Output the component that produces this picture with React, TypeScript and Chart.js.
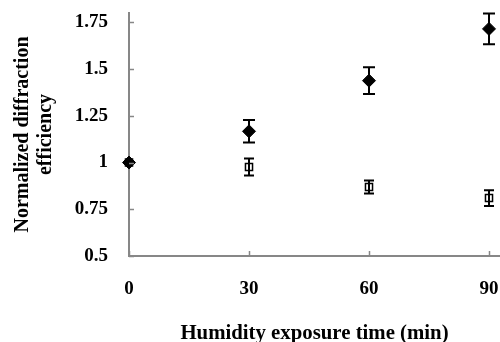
import React, { useEffect, useRef } from 'react';
import { Chart, registerables } from 'chart.js';

Chart.register(...registerables);

const xValues = [0, 30, 60, 90];
const diamondValues = [1.0, 1.167, 1.438, 1.715];
const diamondErrors = [0, 0.06, 0.072, 0.082];
const squareValues = [1.0, 0.976, 0.869, 0.81];
const squareErrors = [0, 0.045, 0.035, 0.042];
const xTicks = [0, 30, 60, 90];
const yTicks = [0.5, 0.75, 1, 1.25, 1.5, 1.75];
const xTitle = 'Humidity exposure time (min)';
const yTitle = ['Normalized diffraction', 'efficiency'];

const FONT = '"Liberation Serif", "Times New Roman", serif';
const AXIS_COLOR = '#878787';

const errorBarPlugin = {
  id: 'errorBars',
  afterDatasetsDraw(chart: any) {
    const ctx = chart.ctx;
    const ys = chart.scales.y;
    chart.data.datasets.forEach((ds: any, di: number) => {
      const meta = chart.getDatasetMeta(di);
      const errs: number[] = ds.errors || [];
      const cap: number = ds.capHalf || 5;
      meta.data.forEach((pt: any, i: number) => {
        const e = errs[i];
        if (!e) return;
        const v = ds.data[i].y;
        const top = ys.getPixelForValue(v + e);
        const bot = ys.getPixelForValue(v - e);
        const x = pt.x;
        ctx.save();
        ctx.strokeStyle = '#000';
        ctx.lineWidth = 2;
        ctx.beginPath();
        ctx.moveTo(x, top);
        ctx.lineTo(x, bot);
        ctx.moveTo(x - cap, top);
        ctx.lineTo(x + cap, top);
        ctx.moveTo(x - cap, bot);
        ctx.lineTo(x + cap, bot);
        ctx.stroke();
        ctx.restore();
      });
    });
  },
  afterDraw(chart: any) {
    const ctx = chart.ctx;
    const xs = chart.scales.x;
    const ys = chart.scales.y;
    const area = chart.chartArea;
    ctx.save();
    ctx.strokeStyle = AXIS_COLOR;
    ctx.lineWidth = 1.5;
    ctx.beginPath();
    yTicks.forEach((v) => {
      const y = Math.round(ys.getPixelForValue(v)) + 0.5;
      ctx.moveTo(area.left, y);
      ctx.lineTo(area.left + 5, y);
    });
    xTicks.forEach((v) => {
      const x = Math.round(xs.getPixelForValue(v)) + 0.5;
      ctx.moveTo(x, area.bottom);
      ctx.lineTo(x, area.bottom - 5);
    });
    ctx.stroke();
    ctx.restore();
  },
};

const zeroPadding = (s: any) => {
  s.paddingTop = 0;
  s.paddingBottom = 0;
  s.paddingLeft = 0;
  s.paddingRight = 0;
};

export default function App() {
  const ref = useRef<HTMLCanvasElement | null>(null);

  useEffect(() => {
    document.body.style.margin = '0';
    const canvas = ref.current;
    if (!canvas) return;
    const chart = new Chart(canvas, {
      type: 'scatter',
      data: {
        datasets: [
          {
            label: 'diamond',
            data: xValues.map((x, i) => ({ x, y: diamondValues[i] })),
            pointStyle: 'rectRot',
            pointRadius: 6.5,
            backgroundColor: '#000',
            borderColor: '#000',
            borderWidth: 1,
            errors: diamondErrors,
            capHalf: 6,
            clip: false,
          } as any,
          {
            label: 'square',
            data: xValues.map((x, i) => ({ x, y: squareValues[i] })),
            pointStyle: 'rect',
            pointRadius: 5,
            backgroundColor: '#fff',
            borderColor: '#000',
            borderWidth: 1.5,
            errors: squareErrors,
            capHalf: 5,
            clip: false,
          } as any,
        ],
      },
      options: {
        animation: false,
        responsive: false,
        devicePixelRatio: 1,
        layout: { autoPadding: false, padding: { top: 13, right: 0, left: 0, bottom: 0 } },
        plugins: { legend: { display: false }, tooltip: { enabled: false } },
        scales: {
          x: {
            type: 'linear',
            min: 0,
            max: 92.75,
            afterBuildTicks: (s: any) => {
              s.ticks = xTicks.map((v) => ({ value: v }));
            },
            afterFit: (s: any) => {
              s.height = 86;
              zeroPadding(s);
            },
            grid: { display: false, drawTicks: false },
            border: { display: true, color: AXIS_COLOR, width: 2 },
            ticks: {
              color: '#000',
              padding: 22,
              font: { family: FONT, size: 19, weight: 'bold' },
              callback: (v: any) => String(v),
              maxRotation: 0,
            },
            title: {
              display: true,
              text: xTitle,
              color: '#000',
              padding: 0,
              font: { family: FONT, size: 20.8, weight: 'bold', lineHeight: 0.85 },
            },
          },
          y: {
            type: 'linear',
            min: 0.5,
            max: 1.8,
            afterBuildTicks: (s: any) => {
              s.ticks = yTicks.map((v) => ({ value: v }));
            },
            afterFit: (s: any) => {
              s.width = 129;
              zeroPadding(s);
            },
            grid: { display: false, drawTicks: false },
            border: { display: true, color: AXIS_COLOR, width: 2 },
            ticks: {
              color: '#000',
              padding: 21,
              font: { family: FONT, size: 19, weight: 'bold' },
              callback: (v: any) => String(v),
            },
            title: {
              display: true,
              text: yTitle,
              color: '#000',
              padding: { top: 11, bottom: 0 },
              font: { family: FONT, size: 20, weight: 'bold', lineHeight: 1.15 },
            },
          },
        },
      } as any,
      plugins: [errorBarPlugin],
    });
    return () => chart.destroy();
  }, []);

  return (
    <div style={{ width: 500, height: 342 }}>
      <canvas ref={ref} width={500} height={342} style={{ display: 'block', width: 500, height: 342 }} />
    </div>
  );
}
